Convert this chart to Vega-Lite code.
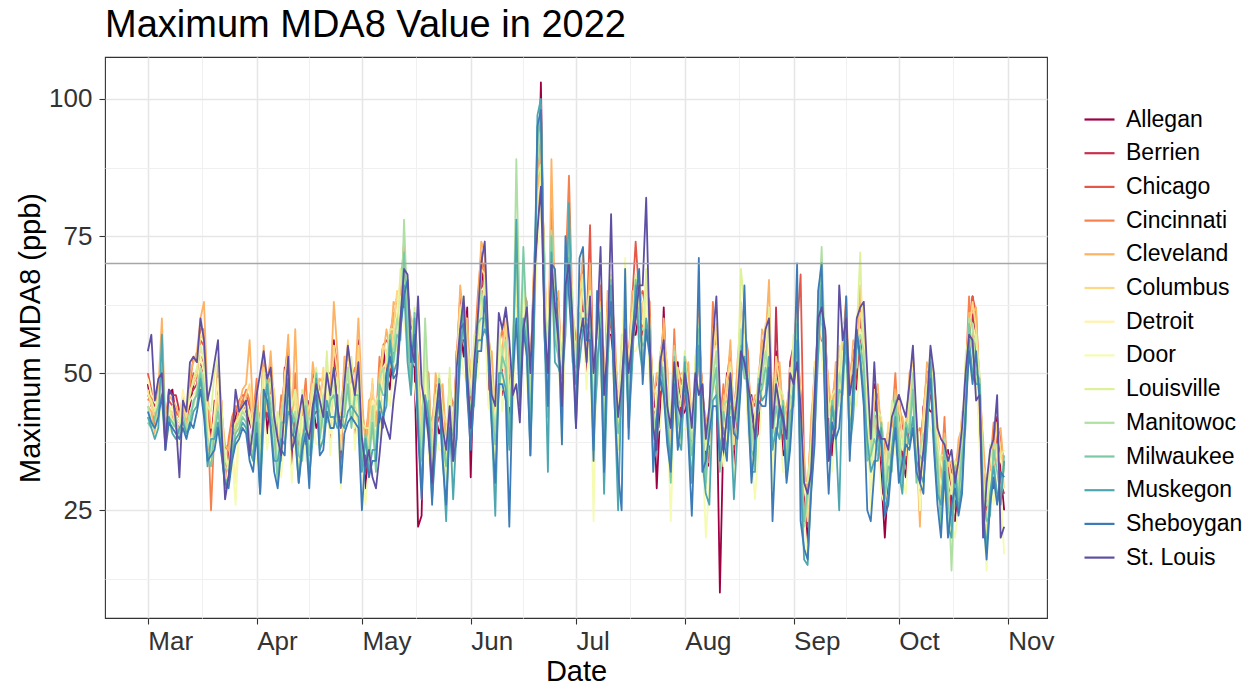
{
"$schema": "https://vega.github.io/schema/vega-lite/v6.json",
"width": 942, "height": 561,
"autosize": {"type": "none"},
"padding": {"left": 105, "top": 57, "right": 210, "bottom": 69},
"background": "white",
"title": {"text": "Maximum MDA8 Value in 2022", "anchor": "start", "frame": "group", "orient": "top", "offset": 12, "fontSize": 38, "font": "Liberation Sans", "fontWeight": "normal", "color": "#000000"},
"config": {
 "view": {"stroke": "#333333", "strokeWidth": 1.1},
 "axis": {"domain": false, "labelFont": "Liberation Sans", "labelFontSize": 26, "labelColor": "#333333", "titleFont": "Liberation Sans", "titleFontSize": 29, "titleFontWeight": "normal", "titleColor": "#000000", "tickSize": 6, "tickWidth": 1.1, "labelFlush": false, "labelOverlap": false, "labelBound": false}
},
"datasets": {"main": [
{"d":"2022-03-01","a":48,"b":46,"c":50,"d2":45,"e":44,"f":47,"g":49,"h":42,"i":46,"j":44,"k":41,"l":42,"m":43,"n":54},
{"d":"2022-03-02","a":44,"b":45,"c":47,"d2":46,"e":43,"f":44,"g":46,"h":40,"i":45,"j":41,"k":40,"l":40,"m":41,"n":57},
{"d":"2022-03-03","a":43,"b":44,"c":40,"d2":41,"e":39,"f":42,"g":45,"h":38,"i":43,"j":40,"k":42,"l":38,"m":40,"n":45},
{"d":"2022-03-04","a":45,"b":46,"c":44,"d2":48,"e":47,"f":44,"g":43,"h":41,"i":46,"j":43,"k":44,"l":40,"m":42,"n":49},
{"d":"2022-03-05","a":47,"b":48,"c":50,"d2":52,"e":60,"f":55,"g":48,"h":44,"i":49,"j":46,"k":45,"l":57,"m":46,"n":50},
{"d":"2022-03-06","a":38,"b":40,"c":42,"d2":40,"e":41,"f":40,"g":42,"h":37,"i":39,"j":38,"k":39,"l":38,"m":36,"n":36},
{"d":"2022-03-07","a":46,"b":47,"c":45,"d2":44,"e":46,"f":42,"g":43,"h":40,"i":44,"j":41,"k":42,"l":42,"m":41,"n":47},
{"d":"2022-03-08","a":47,"b":46,"c":44,"d2":42,"e":45,"f":43,"g":44,"h":39,"i":41,"j":40,"k":41,"l":39,"m":40,"n":46},
{"d":"2022-03-09","a":42,"b":46,"c":43,"d2":41,"e":44,"f":40,"g":42,"h":38,"i":40,"j":42,"k":40,"l":38,"m":39,"n":41},
{"d":"2022-03-10","a":41,"b":43,"c":42,"d2":40,"e":42,"f":39,"g":41,"h":37,"i":40,"j":38,"k":39,"l":40,"m":38,"n":31},
{"d":"2022-03-11","a":45,"b":44,"c":43,"d2":42,"e":46,"f":44,"g":47,"h":41,"i":44,"j":43,"k":42,"l":41,"m":40,"n":45},
{"d":"2022-03-12","a":42,"b":41,"c":40,"d2":43,"e":41,"f":42,"g":43,"h":39,"i":44,"j":40,"k":39,"l":39,"m":38,"n":43},
{"d":"2022-03-13","a":44,"b":46,"c":47,"d2":48,"e":50,"f":47,"g":45,"h":42,"i":46,"j":43,"k":41,"l":40,"m":41,"n":52},
{"d":"2022-03-14","a":48,"b":47,"c":50,"d2":53,"e":52,"f":48,"g":46,"h":43,"i":49,"j":44,"k":45,"l":43,"m":40,"n":53},
{"d":"2022-03-15","a":50,"b":48,"c":49,"d2":52,"e":54,"f":50,"g":47,"h":44,"i":51,"j":47,"k":46,"l":44,"m":43,"n":52},
{"d":"2022-03-16","a":52,"b":53,"c":56,"d2":58,"e":60,"f":57,"g":53,"h":48,"i":55,"j":51,"k":50,"l":49,"m":47,"n":60},
{"d":"2022-03-17","a":50,"b":52,"c":55,"d2":58,"e":63,"f":56,"g":50,"h":45,"i":52,"j":48,"k":46,"l":44,"m":42,"n":56},
{"d":"2022-03-18","a":44,"b":42,"c":45,"d2":43,"e":46,"f":41,"g":40,"h":36,"i":44,"j":38,"k":35,"l":33,"m":34,"n":45},
{"d":"2022-03-19","a":38,"b":37,"c":35,"d2":25,"e":40,"f":37,"g":36,"h":34,"i":43,"j":35,"k":33,"l":38,"m":35,"n":48},
{"d":"2022-03-20","a":43,"b":45,"c":42,"d2":40,"e":41,"f":42,"g":43,"h":38,"i":50,"j":40,"k":39,"l":38,"m":36,"n":52},
{"d":"2022-03-21","a":46,"b":45,"c":48,"d2":47,"e":52,"f":46,"g":49,"h":41,"i":53,"j":44,"k":43,"l":41,"m":40,"n":56},
{"d":"2022-03-22","a":41,"b":42,"c":40,"d2":45,"e":43,"f":40,"g":38,"h":37,"i":44,"j":39,"k":38,"l":36,"m":35,"n":40},
{"d":"2022-03-23","a":33,"b":34,"c":36,"d2":30,"e":37,"f":35,"g":36,"h":31,"i":34,"j":33,"k":30,"l":29,"m":30,"n":27},
{"d":"2022-03-24","a":34,"b":35,"c":37,"d2":38,"e":36,"f":33,"g":32,"h":30,"i":33,"j":32,"k":31,"l":31,"m":29,"n":31},
{"d":"2022-03-25","a":40,"b":38,"c":41,"d2":42,"e":40,"f":38,"g":37,"h":35,"i":39,"j":37,"k":36,"l":35,"m":34,"n":38},
{"d":"2022-03-26","a":42,"b":41,"c":43,"d2":44,"e":40,"f":39,"g":30,"h":26,"i":41,"j":40,"k":39,"l":38,"m":37,"n":47},
{"d":"2022-03-27","a":44,"b":43,"c":45,"d2":43,"e":44,"f":42,"g":41,"h":39,"i":42,"j":41,"k":40,"l":39,"m":38,"n":43},
{"d":"2022-03-28","a":44,"b":45,"c":46,"d2":45,"e":47,"f":43,"g":42,"h":40,"i":44,"j":43,"k":42,"l":41,"m":40,"n":44},
{"d":"2022-03-29","a":43,"b":44,"c":46,"d2":47,"e":48,"f":46,"g":44,"h":41,"i":45,"j":42,"k":41,"l":40,"m":39,"n":45},
{"d":"2022-03-30","a":41,"b":42,"c":44,"d2":45,"e":56,"f":48,"g":43,"h":38,"i":42,"j":39,"k":37,"l":36,"m":34,"n":35},
{"d":"2022-03-31","a":39,"b":40,"c":41,"d2":42,"e":43,"f":40,"g":38,"h":36,"i":40,"j":37,"k":35,"l":34,"m":32,"n":40},
{"d":"2022-04-01","a":40,"b":37,"c":43,"d2":49,"e":46,"f":42,"g":38,"h":34,"i":42,"j":45,"k":44,"l":41,"m":39,"n":46},
{"d":"2022-04-02","a":42,"b":39,"c":41,"d2":34,"e":39,"f":41,"g":37,"h":31,"i":33,"j":37,"k":32,"l":28,"m":28,"n":50},
{"d":"2022-04-03","a":47,"b":45,"c":53,"d2":49,"e":55,"f":51,"g":49,"h":44,"i":50,"j":42,"k":43,"l":41,"m":47,"n":54},
{"d":"2022-04-04","a":39,"b":42,"c":47,"d2":49,"e":46,"f":43,"g":46,"h":36,"i":50,"j":47,"k":49,"l":48,"m":45,"n":49},
{"d":"2022-04-05","a":47,"b":48,"c":50,"d2":52,"e":54,"f":49,"g":46,"h":42,"i":49,"j":45,"k":43,"l":41,"m":40,"n":51},
{"d":"2022-04-06","a":37,"b":41,"c":46,"d2":42,"e":44,"f":47,"g":43,"h":38,"i":36,"j":42,"k":39,"l":34,"m":32,"n":42},
{"d":"2022-04-07","a":40,"b":41,"c":35,"d2":39,"e":37,"f":34,"g":42,"h":38,"i":43,"j":31,"k":30,"l":34,"m":29,"n":38},
{"d":"2022-04-08","a":37,"b":34,"c":40,"d2":46,"e":43,"f":39,"g":35,"h":31,"i":39,"j":42,"k":41,"l":38,"m":36,"n":35},
{"d":"2022-04-09","a":51,"b":48,"c":50,"d2":43,"e":48,"f":50,"g":46,"h":40,"i":42,"j":46,"k":41,"l":37,"m":35,"n":44},
{"d":"2022-04-10","a":49,"b":47,"c":55,"d2":51,"e":57,"f":53,"g":51,"h":46,"i":52,"j":44,"k":45,"l":43,"m":49,"n":53},
{"d":"2022-04-11","a":33,"b":36,"c":41,"d2":43,"e":40,"f":37,"g":40,"h":30,"i":44,"j":41,"k":43,"l":42,"m":39,"n":36},
{"d":"2022-04-12","a":45,"b":46,"c":48,"d2":50,"e":58,"f":47,"g":44,"h":40,"i":47,"j":43,"k":41,"l":39,"m":38,"n":38},
{"d":"2022-04-13","a":33,"b":37,"c":42,"d2":38,"e":40,"f":43,"g":39,"h":34,"i":32,"j":38,"k":35,"l":30,"m":30,"n":42},
{"d":"2022-04-14","a":44,"b":45,"c":39,"d2":43,"e":41,"f":38,"g":46,"h":42,"i":47,"j":35,"k":34,"l":38,"m":36,"n":46},
{"d":"2022-04-15","a":40,"b":37,"c":43,"d2":49,"e":46,"f":42,"g":38,"h":34,"i":42,"j":45,"k":44,"l":41,"m":39,"n":40},
{"d":"2022-04-16","a":45,"b":42,"c":44,"d2":37,"e":42,"f":44,"g":40,"h":34,"i":36,"j":40,"k":35,"l":31,"m":29,"n":38},
{"d":"2022-04-17","a":44,"b":42,"c":50,"d2":46,"e":52,"f":48,"g":46,"h":41,"i":47,"j":39,"k":40,"l":38,"m":44,"n":44},
{"d":"2022-04-18","a":40,"b":43,"c":48,"d2":50,"e":47,"f":44,"g":47,"h":37,"i":51,"j":48,"k":50,"l":49,"m":46,"n":48},
{"d":"2022-04-19","a":42,"b":43,"c":45,"d2":47,"e":49,"f":44,"g":41,"h":37,"i":44,"j":40,"k":38,"l":36,"m":35,"n":45},
{"d":"2022-04-20","a":41,"b":45,"c":50,"d2":46,"e":48,"f":51,"g":47,"h":42,"i":40,"j":46,"k":43,"l":38,"m":36,"n":42},
{"d":"2022-04-21","a":51,"b":52,"c":46,"d2":50,"e":48,"f":45,"g":53,"h":49,"i":54,"j":42,"k":41,"l":45,"m":43,"n":50},
{"d":"2022-04-22","a":41,"b":38,"c":44,"d2":50,"e":47,"f":43,"g":39,"h":35,"i":43,"j":46,"k":45,"l":42,"m":40,"n":46},
{"d":"2022-04-23","a":56,"b":53,"c":55,"d2":48,"e":63,"f":55,"g":51,"h":45,"i":47,"j":51,"k":46,"l":42,"m":40,"n":51},
{"d":"2022-04-24","a":46,"b":44,"c":52,"d2":48,"e":54,"f":50,"g":48,"h":43,"i":49,"j":41,"k":42,"l":40,"m":46,"n":44},
{"d":"2022-04-25","a":32,"b":35,"c":40,"d2":42,"e":39,"f":36,"g":39,"h":29,"i":43,"j":40,"k":42,"l":41,"m":30,"n":40},
{"d":"2022-04-26","a":46,"b":47,"c":49,"d2":51,"e":53,"f":48,"g":45,"h":41,"i":48,"j":44,"k":42,"l":40,"m":39,"n":48},
{"d":"2022-04-27","a":46,"b":50,"c":55,"d2":51,"e":53,"f":56,"g":52,"h":47,"i":45,"j":51,"k":48,"l":43,"m":41,"n":55},
{"d":"2022-04-28","a":50,"b":51,"c":45,"d2":49,"e":47,"f":44,"g":52,"h":48,"i":53,"j":41,"k":40,"l":44,"m":42,"n":50},
{"d":"2022-04-29","a":42,"b":39,"c":45,"d2":51,"e":48,"f":44,"g":40,"h":36,"i":44,"j":47,"k":46,"l":43,"m":41,"n":46},
{"d":"2022-04-30","a":56,"b":53,"c":55,"d2":48,"e":60,"f":55,"g":51,"h":45,"i":47,"j":51,"k":46,"l":42,"m":40,"n":52},
{"d":"2022-05-01","a":38,"b":36,"c":44,"d2":40,"e":46,"f":42,"g":40,"h":35,"i":41,"j":33,"k":34,"l":32,"m":25,"n":38},
{"d":"2022-05-02","a":29,"b":32,"c":37,"d2":39,"e":36,"f":33,"g":36,"h":26,"i":40,"j":37,"k":39,"l":38,"m":35,"n":33},
{"d":"2022-05-03","a":38,"b":39,"c":41,"d2":43,"e":45,"f":40,"g":37,"h":33,"i":40,"j":36,"k":34,"l":32,"m":31,"n":36},
{"d":"2022-05-04","a":39,"b":43,"c":48,"d2":44,"e":46,"f":49,"g":45,"h":40,"i":38,"j":44,"k":41,"l":36,"m":34,"n":31},
{"d":"2022-05-05","a":42,"b":43,"c":37,"d2":41,"e":39,"f":36,"g":44,"h":40,"i":45,"j":33,"k":32,"l":36,"m":34,"n":29},
{"d":"2022-05-06","a":44,"b":41,"c":47,"d2":53,"e":50,"f":46,"g":42,"h":38,"i":46,"j":49,"k":48,"l":45,"m":43,"n":35},
{"d":"2022-05-07","a":55,"b":53,"c":55,"d2":48,"e":53,"f":55,"g":51,"h":45,"i":47,"j":51,"k":46,"l":42,"m":40,"n":42},
{"d":"2022-05-08","a":50,"b":48,"c":56,"d2":52,"e":58,"f":54,"g":52,"h":47,"i":53,"j":45,"k":46,"l":44,"m":50,"n":40},
{"d":"2022-05-09","a":47,"b":50,"c":55,"d2":57,"e":54,"f":51,"g":54,"h":44,"i":58,"j":55,"k":57,"l":56,"m":53,"n":38},
{"d":"2022-05-10","a":56,"b":57,"c":59,"d2":61,"e":63,"f":58,"g":55,"h":51,"i":58,"j":54,"k":52,"l":50,"m":49,"n":45},
{"d":"2022-05-11","a":55,"b":59,"c":64,"d2":60,"e":62,"f":65,"g":61,"h":56,"i":54,"j":60,"k":57,"l":52,"m":50,"n":50},
{"d":"2022-05-12","a":66,"b":67,"c":61,"d2":65,"e":63,"f":60,"g":68,"h":64,"i":69,"j":57,"k":56,"l":60,"m":58,"n":60},
{"d":"2022-05-13","a":65,"b":62,"c":68,"d2":74,"e":71,"f":67,"g":63,"h":59,"i":67,"j":78,"k":72,"l":66,"m":64,"n":69},
{"d":"2022-05-14","a":66,"b":63,"c":65,"d2":58,"e":63,"f":65,"g":61,"h":55,"i":57,"j":61,"k":56,"l":52,"m":67,"n":68},
{"d":"2022-05-15","a":52,"b":50,"c":58,"d2":54,"e":60,"f":56,"g":54,"h":49,"i":55,"j":47,"k":48,"l":46,"m":52,"n":55},
{"d":"2022-05-16","a":51,"b":54,"c":59,"d2":61,"e":58,"f":55,"g":58,"h":48,"i":62,"j":59,"k":61,"l":60,"m":57,"n":52},
{"d":"2022-05-17","a":22,"b":47,"c":49,"d2":51,"e":53,"f":48,"g":45,"h":41,"i":48,"j":44,"k":42,"l":40,"m":39,"n":64},
{"d":"2022-05-18","a":24,"b":36,"c":41,"d2":37,"e":39,"f":42,"g":38,"h":33,"i":31,"j":37,"k":34,"l":29,"m":27,"n":48},
{"d":"2022-05-19","a":52,"b":53,"c":47,"d2":51,"e":49,"f":46,"g":54,"h":50,"i":55,"j":60,"k":42,"l":46,"m":44,"n":44},
{"d":"2022-05-20","a":41,"b":38,"c":44,"d2":50,"e":47,"f":43,"g":39,"h":35,"i":43,"j":46,"k":45,"l":42,"m":40,"n":38},
{"d":"2022-05-21","a":41,"b":38,"c":40,"d2":33,"e":38,"f":40,"g":36,"h":30,"i":32,"j":36,"k":31,"l":27,"m":26,"n":30},
{"d":"2022-05-22","a":42,"b":40,"c":48,"d2":44,"e":50,"f":46,"g":44,"h":39,"i":45,"j":37,"k":38,"l":36,"m":42,"n":42},
{"d":"2022-05-23","a":39,"b":42,"c":47,"d2":49,"e":46,"f":43,"g":46,"h":36,"i":50,"j":47,"k":49,"l":48,"m":45,"n":48},
{"d":"2022-05-24","a":41,"b":42,"c":44,"d2":46,"e":48,"f":43,"g":40,"h":36,"i":43,"j":39,"k":37,"l":35,"m":34,"n":40},
{"d":"2022-05-25","a":31,"b":35,"c":40,"d2":36,"e":38,"f":41,"g":37,"h":32,"i":30,"j":36,"k":33,"l":23,"m":26,"n":36},
{"d":"2022-05-26","a":49,"b":49,"c":43,"d2":47,"e":45,"f":42,"g":50,"h":46,"i":51,"j":39,"k":38,"l":42,"m":40,"n":44},
{"d":"2022-05-27","a":35,"b":32,"c":38,"d2":44,"e":41,"f":37,"g":33,"h":29,"i":37,"j":40,"k":39,"l":27,"m":34,"n":34},
{"d":"2022-05-28","a":54,"b":51,"c":53,"d2":46,"e":51,"f":53,"g":49,"h":43,"i":45,"j":49,"k":44,"l":40,"m":38,"n":51},
{"d":"2022-05-29","a":58,"b":56,"c":64,"d2":60,"e":66,"f":62,"g":60,"h":55,"i":61,"j":53,"k":54,"l":52,"m":58,"n":58},
{"d":"2022-05-30","a":53,"b":56,"c":61,"d2":63,"e":60,"f":57,"g":60,"h":50,"i":64,"j":61,"k":63,"l":62,"m":59,"n":64},
{"d":"2022-05-31","a":62,"b":54,"c":56,"d2":58,"e":60,"f":55,"g":52,"h":48,"i":55,"j":51,"k":49,"l":47,"m":46,"n":50},
{"d":"2022-06-01","a":31,"b":45,"c":50,"d2":46,"e":48,"f":51,"g":47,"h":42,"i":40,"j":46,"k":43,"l":38,"m":36,"n":40},
{"d":"2022-06-02","a":54,"b":55,"c":49,"d2":53,"e":51,"f":48,"g":56,"h":52,"i":57,"j":45,"k":44,"l":48,"m":46,"n":52},
{"d":"2022-06-03","a":55,"b":52,"c":58,"d2":64,"e":61,"f":57,"g":53,"h":49,"i":57,"j":60,"k":59,"l":56,"m":54,"n":60},
{"d":"2022-06-04","a":70,"b":67,"c":69,"d2":72,"e":74,"f":69,"g":65,"h":59,"i":61,"j":65,"k":60,"l":56,"m":54,"n":70},
{"d":"2022-06-05","a":64,"b":62,"c":70,"d2":66,"e":72,"f":68,"g":66,"h":61,"i":67,"j":59,"k":60,"l":58,"m":64,"n":74},
{"d":"2022-06-06","a":47,"b":50,"c":55,"d2":57,"e":54,"f":51,"g":54,"h":44,"i":58,"j":55,"k":57,"l":56,"m":53,"n":56},
{"d":"2022-06-07","a":47,"b":48,"c":50,"d2":52,"e":54,"f":49,"g":46,"h":42,"i":49,"j":45,"k":43,"l":41,"m":40,"n":46},
{"d":"2022-06-08","a":35,"b":39,"c":44,"d2":40,"e":42,"f":45,"g":41,"h":36,"i":34,"j":40,"k":37,"l":24,"m":30,"n":44},
{"d":"2022-06-09","a":56,"b":57,"c":51,"d2":55,"e":53,"f":50,"g":58,"h":54,"i":59,"j":47,"k":46,"l":50,"m":48,"n":61},
{"d":"2022-06-10","a":49,"b":46,"c":52,"d2":58,"e":55,"f":51,"g":47,"h":43,"i":51,"j":54,"k":53,"l":50,"m":48,"n":58},
{"d":"2022-06-11","a":61,"b":58,"c":60,"d2":53,"e":58,"f":60,"g":56,"h":50,"i":52,"j":56,"k":51,"l":47,"m":45,"n":62},
{"d":"2022-06-12","a":42,"b":40,"c":48,"d2":44,"e":50,"f":46,"g":44,"h":39,"i":45,"j":37,"k":38,"l":36,"m":22,"n":56},
{"d":"2022-06-13","a":43,"b":46,"c":51,"d2":53,"e":50,"f":47,"g":50,"h":40,"i":54,"j":51,"k":53,"l":52,"m":49,"n":46},
{"d":"2022-06-14","a":67,"b":68,"c":70,"d2":72,"e":74,"f":69,"g":66,"h":62,"i":69,"j":89,"k":75,"l":78,"m":60,"n":48},
{"d":"2022-06-15","a":49,"b":53,"c":58,"d2":54,"e":56,"f":59,"g":55,"h":50,"i":48,"j":60,"k":51,"l":46,"m":44,"n":41},
{"d":"2022-06-16","a":66,"b":67,"c":61,"d2":65,"e":63,"f":60,"g":68,"h":64,"i":69,"j":57,"k":73,"l":60,"m":58,"n":58},
{"d":"2022-06-17","a":54,"b":51,"c":57,"d2":63,"e":60,"f":56,"g":52,"h":48,"i":56,"j":59,"k":58,"l":55,"m":53,"n":62},
{"d":"2022-06-18","a":51,"b":48,"c":50,"d2":43,"e":48,"f":50,"g":46,"h":40,"i":42,"j":46,"k":41,"l":35,"m":35,"n":50},
{"d":"2022-06-19","a":62,"b":60,"c":68,"d2":64,"e":70,"f":66,"g":64,"h":59,"i":65,"j":57,"k":58,"l":56,"m":62,"n":66},
{"d":"2022-06-20","a":75,"b":78,"c":83,"d2":85,"e":82,"f":79,"g":82,"h":72,"i":86,"j":88,"k":92,"l":97,"m":95,"n":76},
{"d":"2022-06-21","a":103,"b":95,"c":89,"d2":91,"e":93,"f":88,"g":85,"h":81,"i":88,"j":96,"k":99,"l":100,"m":98,"n":84},
{"d":"2022-06-22","a":62,"b":66,"c":71,"d2":67,"e":69,"f":72,"g":68,"h":63,"i":61,"j":67,"k":64,"l":59,"m":57,"n":60},
{"d":"2022-06-23","a":52,"b":53,"c":47,"d2":51,"e":49,"f":46,"g":54,"h":50,"i":55,"j":43,"k":42,"l":32,"m":44,"n":50},
{"d":"2022-06-24","a":71,"b":68,"c":74,"d2":80,"e":89,"f":73,"g":69,"h":65,"i":73,"j":76,"k":75,"l":72,"m":70,"n":70},
{"d":"2022-06-25","a":66,"b":63,"c":65,"d2":58,"e":63,"f":65,"g":61,"h":55,"i":57,"j":61,"k":56,"l":52,"m":69,"n":62},
{"d":"2022-06-26","a":57,"b":55,"c":63,"d2":59,"e":65,"f":61,"g":59,"h":54,"i":60,"j":52,"k":53,"l":51,"m":57,"n":56},
{"d":"2022-06-27","a":40,"b":43,"c":48,"d2":50,"e":47,"f":44,"g":47,"h":37,"i":51,"j":48,"k":50,"l":49,"m":37,"n":44},
{"d":"2022-06-28","a":63,"b":64,"c":66,"d2":68,"e":70,"f":65,"g":62,"h":58,"i":65,"j":61,"k":59,"l":57,"m":75,"n":66},
{"d":"2022-06-29","a":69,"b":73,"c":78,"d2":86,"e":76,"f":79,"g":75,"h":70,"i":68,"j":74,"k":71,"l":81,"m":64,"n":70},
{"d":"2022-06-30","a":62,"b":63,"c":57,"d2":61,"e":59,"f":56,"g":64,"h":60,"i":65,"j":53,"k":52,"l":56,"m":54,"n":60},
{"d":"2022-07-01","a":47,"b":44,"c":50,"d2":56,"e":53,"f":49,"g":45,"h":41,"i":49,"j":52,"k":51,"l":48,"m":40,"n":40},
{"d":"2022-07-02","a":66,"b":63,"c":65,"d2":58,"e":63,"f":65,"g":61,"h":55,"i":57,"j":61,"k":56,"l":52,"m":71,"n":56},
{"d":"2022-07-03","a":64,"b":62,"c":70,"d2":66,"e":72,"f":68,"g":66,"h":61,"i":67,"j":59,"k":60,"l":58,"m":73,"n":60},
{"d":"2022-07-04","a":50,"b":53,"c":58,"d2":60,"e":57,"f":54,"g":57,"h":47,"i":61,"j":58,"k":60,"l":59,"m":56,"n":52},
{"d":"2022-07-05","a":63,"b":64,"c":77,"d2":68,"e":70,"f":65,"g":62,"h":58,"i":65,"j":61,"k":59,"l":57,"m":56,"n":64},
{"d":"2022-07-06","a":39,"b":43,"c":48,"d2":44,"e":46,"f":49,"g":45,"h":23,"i":38,"j":44,"k":41,"l":36,"m":34,"n":50},
{"d":"2022-07-07","a":58,"b":59,"c":53,"d2":57,"e":55,"f":52,"g":60,"h":56,"i":61,"j":49,"k":48,"l":52,"m":65,"n":58},
{"d":"2022-07-08","a":57,"b":54,"c":60,"d2":66,"e":63,"f":59,"g":55,"h":51,"i":59,"j":62,"k":61,"l":58,"m":56,"n":73},
{"d":"2022-07-09","a":48,"b":45,"c":47,"d2":40,"e":45,"f":47,"g":43,"h":37,"i":39,"j":43,"k":38,"l":28,"m":32,"n":46},
{"d":"2022-07-10","a":57,"b":55,"c":63,"d2":59,"e":65,"f":61,"g":59,"h":54,"i":60,"j":52,"k":53,"l":51,"m":57,"n":55},
{"d":"2022-07-11","a":57,"b":60,"c":65,"d2":67,"e":64,"f":61,"g":64,"h":54,"i":68,"j":65,"k":67,"l":66,"m":63,"n":79},
{"d":"2022-07-12","a":51,"b":52,"c":54,"d2":56,"e":58,"f":53,"g":50,"h":46,"i":53,"j":49,"k":47,"l":45,"m":44,"n":52},
{"d":"2022-07-13","a":37,"b":41,"c":46,"d2":42,"e":44,"f":47,"g":43,"h":38,"i":36,"j":42,"k":39,"l":25,"m":32,"n":42},
{"d":"2022-07-14","a":54,"b":55,"c":49,"d2":53,"e":51,"f":48,"g":56,"h":52,"i":57,"j":45,"k":44,"l":48,"m":25,"n":48},
{"d":"2022-07-15","a":55,"b":52,"c":58,"d2":64,"e":61,"f":57,"g":53,"h":71,"i":57,"j":60,"k":59,"l":56,"m":69,"n":58},
{"d":"2022-07-16","a":54,"b":51,"c":53,"d2":46,"e":51,"f":53,"g":49,"h":43,"i":45,"j":49,"k":44,"l":40,"m":38,"n":50},
{"d":"2022-07-17","a":57,"b":55,"c":63,"d2":59,"e":65,"f":61,"g":59,"h":54,"i":60,"j":52,"k":53,"l":51,"m":57,"n":56},
{"d":"2022-07-18","a":57,"b":60,"c":74,"d2":67,"e":64,"f":61,"g":64,"h":54,"i":68,"j":65,"k":67,"l":66,"m":63,"n":60},
{"d":"2022-07-19","a":61,"b":62,"c":64,"d2":66,"e":68,"f":63,"g":60,"h":56,"i":63,"j":59,"k":57,"l":55,"m":69,"n":66},
{"d":"2022-07-20","a":53,"b":57,"c":65,"d2":58,"e":60,"f":63,"g":59,"h":54,"i":52,"j":58,"k":55,"l":50,"m":48,"n":66},
{"d":"2022-07-21","a":66,"b":67,"c":61,"d2":65,"e":63,"f":60,"g":68,"h":64,"i":69,"j":57,"k":56,"l":60,"m":58,"n":82},
{"d":"2022-07-22","a":54,"b":51,"c":57,"d2":63,"e":60,"f":56,"g":52,"h":48,"i":56,"j":59,"k":58,"l":55,"m":53,"n":56},
{"d":"2022-07-23","a":48,"b":45,"c":47,"d2":40,"e":45,"f":47,"g":43,"h":37,"i":39,"j":43,"k":38,"l":34,"m":32,"n":40},
{"d":"2022-07-24","a":29,"b":40,"c":48,"d2":44,"e":50,"f":46,"g":44,"h":39,"i":45,"j":37,"k":38,"l":36,"m":42,"n":36},
{"d":"2022-07-25","a":43,"b":46,"c":51,"d2":53,"e":50,"f":47,"g":50,"h":40,"i":54,"j":51,"k":53,"l":52,"m":49,"n":52},
{"d":"2022-07-26","a":62,"b":54,"c":56,"d2":58,"e":60,"f":55,"g":52,"h":48,"i":55,"j":51,"k":49,"l":47,"m":46,"n":56},
{"d":"2022-07-27","a":42,"b":46,"c":51,"d2":47,"e":49,"f":52,"g":48,"h":43,"i":41,"j":47,"k":44,"l":39,"m":37,"n":44},
{"d":"2022-07-28","a":40,"b":41,"c":35,"d2":39,"e":37,"f":34,"g":42,"h":23,"i":43,"j":31,"k":30,"l":34,"m":32,"n":40},
{"d":"2022-07-29","a":49,"b":46,"c":52,"d2":58,"e":55,"f":51,"g":47,"h":43,"i":51,"j":54,"k":53,"l":50,"m":48,"n":52},
{"d":"2022-07-30","a":52,"b":49,"c":51,"d2":44,"e":49,"f":51,"g":47,"h":41,"i":43,"j":47,"k":42,"l":38,"m":36,"n":44},
{"d":"2022-07-31","a":42,"b":40,"c":48,"d2":44,"e":50,"f":46,"g":44,"h":39,"i":45,"j":37,"k":38,"l":36,"m":42,"n":42},
{"d":"2022-08-01","a":43,"b":46,"c":51,"d2":53,"e":50,"f":47,"g":50,"h":40,"i":54,"j":51,"k":53,"l":52,"m":49,"n":50},
{"d":"2022-08-02","a":45,"b":46,"c":48,"d2":50,"e":52,"f":47,"g":44,"h":40,"i":47,"j":43,"k":41,"l":39,"m":38,"n":46},
{"d":"2022-08-03","a":33,"b":37,"c":42,"d2":38,"e":40,"f":43,"g":39,"h":34,"i":32,"j":38,"k":35,"l":30,"m":24,"n":40},
{"d":"2022-08-04","a":50,"b":51,"c":45,"d2":49,"e":47,"f":44,"g":52,"h":48,"i":53,"j":41,"k":40,"l":44,"m":42,"n":50},
{"d":"2022-08-05","a":54,"b":51,"c":57,"d2":63,"e":60,"f":56,"g":52,"h":48,"i":56,"j":59,"k":58,"l":55,"m":71,"n":46},
{"d":"2022-08-06","a":48,"b":45,"c":47,"d2":40,"e":45,"f":47,"g":43,"h":37,"i":39,"j":43,"k":38,"l":34,"m":32,"n":48},
{"d":"2022-08-07","a":34,"b":32,"c":40,"d2":36,"e":42,"f":38,"g":36,"h":20,"i":37,"j":29,"k":30,"l":28,"m":34,"n":38},
{"d":"2022-08-08","a":33,"b":36,"c":41,"d2":43,"e":40,"f":37,"g":40,"h":30,"i":44,"j":41,"k":43,"l":26,"m":39,"n":44},
{"d":"2022-08-09","a":51,"b":52,"c":54,"d2":63,"e":58,"f":53,"g":50,"h":46,"i":53,"j":49,"k":47,"l":45,"m":44,"n":56},
{"d":"2022-08-10","a":49,"b":53,"c":58,"d2":54,"e":56,"f":59,"g":55,"h":50,"i":48,"j":54,"k":51,"l":46,"m":44,"n":64},
{"d":"2022-08-11","a":10,"b":43,"c":37,"d2":41,"e":39,"f":36,"g":44,"h":40,"i":45,"j":33,"k":32,"l":36,"m":34,"n":46},
{"d":"2022-08-12","a":39,"b":36,"c":42,"d2":48,"e":45,"f":41,"g":37,"h":33,"i":41,"j":44,"k":43,"l":40,"m":38,"n":36},
{"d":"2022-08-13","a":50,"b":47,"c":49,"d2":42,"e":47,"f":49,"g":45,"h":39,"i":41,"j":45,"k":40,"l":36,"m":34,"n":42},
{"d":"2022-08-14","a":48,"b":46,"c":54,"d2":50,"e":56,"f":52,"g":50,"h":45,"i":51,"j":43,"k":44,"l":42,"m":48,"n":50},
{"d":"2022-08-15","a":33,"b":36,"c":41,"d2":43,"e":40,"f":37,"g":40,"h":30,"i":44,"j":41,"k":43,"l":27,"m":39,"n":40},
{"d":"2022-08-16","a":45,"b":46,"c":48,"d2":50,"e":52,"f":47,"g":44,"h":40,"i":47,"j":43,"k":41,"l":39,"m":38,"n":46},
{"d":"2022-08-17","a":53,"b":57,"c":62,"d2":58,"e":60,"f":63,"g":59,"h":54,"i":69,"j":58,"k":55,"l":50,"m":48,"n":54},
{"d":"2022-08-18","a":59,"b":60,"c":54,"d2":58,"e":56,"f":53,"g":61,"h":57,"i":62,"j":50,"k":49,"l":53,"m":66,"n":52},
{"d":"2022-08-19","a":45,"b":42,"c":48,"d2":54,"e":51,"f":47,"g":43,"h":39,"i":47,"j":50,"k":49,"l":46,"m":44,"n":48},
{"d":"2022-08-20","a":46,"b":43,"c":45,"d2":38,"e":43,"f":45,"g":41,"h":35,"i":37,"j":41,"k":36,"l":32,"m":30,"n":44},
{"d":"2022-08-21","a":38,"b":36,"c":44,"d2":40,"e":46,"f":42,"g":40,"h":27,"i":41,"j":33,"k":34,"l":32,"m":38,"n":38},
{"d":"2022-08-22","a":39,"b":42,"c":47,"d2":49,"e":46,"f":43,"g":46,"h":36,"i":50,"j":47,"k":49,"l":48,"m":45,"n":46},
{"d":"2022-08-23","a":51,"b":52,"c":54,"d2":56,"e":58,"f":53,"g":50,"h":46,"i":53,"j":49,"k":47,"l":45,"m":44,"n":52},
{"d":"2022-08-24","a":49,"b":53,"c":58,"d2":54,"e":56,"f":59,"g":55,"h":50,"i":48,"j":54,"k":51,"l":46,"m":44,"n":58},
{"d":"2022-08-25","a":59,"b":60,"c":54,"d2":58,"e":67,"f":53,"g":61,"h":57,"i":62,"j":50,"k":49,"l":53,"m":51,"n":60},
{"d":"2022-08-26","a":35,"b":32,"c":38,"d2":44,"e":41,"f":37,"g":33,"h":29,"i":37,"j":40,"k":39,"l":36,"m":23,"n":40},
{"d":"2022-08-27","a":54,"b":62,"c":53,"d2":46,"e":51,"f":53,"g":49,"h":43,"i":45,"j":49,"k":44,"l":40,"m":38,"n":48},
{"d":"2022-08-28","a":44,"b":42,"c":50,"d2":46,"e":52,"f":48,"g":46,"h":41,"i":47,"j":39,"k":40,"l":38,"m":44,"n":44},
{"d":"2022-08-29","a":35,"b":38,"c":43,"d2":45,"e":42,"f":39,"g":42,"h":32,"i":46,"j":43,"k":45,"l":44,"m":41,"n":42},
{"d":"2022-08-30","a":37,"b":38,"c":40,"d2":42,"e":44,"f":39,"g":36,"h":32,"i":39,"j":35,"k":33,"l":31,"m":30,"n":38},
{"d":"2022-08-31","a":41,"b":52,"c":50,"d2":46,"e":48,"f":51,"g":47,"h":42,"i":40,"j":46,"k":43,"l":38,"m":36,"n":50},
{"d":"2022-09-01","a":54,"b":55,"c":49,"d2":53,"e":51,"f":48,"g":56,"h":52,"i":57,"j":45,"k":44,"l":48,"m":46,"n":48},
{"d":"2022-09-02","a":55,"b":52,"c":58,"d2":64,"e":61,"f":57,"g":53,"h":49,"i":57,"j":60,"k":59,"l":56,"m":70,"n":52},
{"d":"2022-09-03","a":46,"b":43,"c":68,"d2":38,"e":43,"f":45,"g":41,"h":35,"i":37,"j":41,"k":36,"l":32,"m":23,"n":44},
{"d":"2022-09-04","a":27,"b":25,"c":33,"d2":29,"e":35,"f":31,"g":29,"h":24,"i":30,"j":22,"k":23,"l":16,"m":18,"n":30},
{"d":"2022-09-05","a":19,"b":22,"c":27,"d2":29,"e":26,"f":23,"g":26,"h":16,"i":30,"j":27,"k":29,"l":15,"m":16,"n":28},
{"d":"2022-09-06","a":35,"b":36,"c":38,"d2":40,"e":42,"f":37,"g":34,"h":30,"i":37,"j":33,"k":31,"l":29,"m":28,"n":32},
{"d":"2022-09-07","a":42,"b":46,"c":51,"d2":47,"e":49,"f":52,"g":48,"h":43,"i":41,"j":47,"k":44,"l":39,"m":37,"n":46},
{"d":"2022-09-08","a":59,"b":60,"c":54,"d2":58,"e":56,"f":53,"g":61,"h":57,"i":62,"j":60,"k":62,"l":53,"m":65,"n":60},
{"d":"2022-09-09","a":59,"b":56,"c":62,"d2":68,"e":65,"f":61,"g":57,"h":53,"i":61,"j":73,"k":68,"l":66,"m":70,"n":62},
{"d":"2022-09-10","a":58,"b":55,"c":57,"d2":50,"e":55,"f":57,"g":53,"h":47,"i":49,"j":53,"k":48,"l":44,"m":42,"n":58},
{"d":"2022-09-11","a":40,"b":38,"c":46,"d2":42,"e":48,"f":44,"g":42,"h":37,"i":43,"j":35,"k":36,"l":34,"m":28,"n":34},
{"d":"2022-09-12","a":35,"b":38,"c":43,"d2":45,"e":42,"f":39,"g":42,"h":32,"i":46,"j":43,"k":45,"l":44,"m":41,"n":38},
{"d":"2022-09-13","a":45,"b":46,"c":48,"d2":50,"e":52,"f":47,"g":44,"h":40,"i":47,"j":43,"k":41,"l":39,"m":38,"n":40},
{"d":"2022-09-14","a":45,"b":49,"c":54,"d2":50,"e":52,"f":55,"g":51,"h":46,"i":44,"j":50,"k":47,"l":25,"m":40,"n":66},
{"d":"2022-09-15","a":56,"b":57,"c":51,"d2":55,"e":53,"f":50,"g":58,"h":54,"i":59,"j":47,"k":46,"l":50,"m":48,"n":56},
{"d":"2022-09-16","a":55,"b":52,"c":58,"d2":64,"e":61,"f":57,"g":53,"h":49,"i":57,"j":60,"k":59,"l":56,"m":64,"n":60},
{"d":"2022-09-17","a":50,"b":47,"c":49,"d2":42,"e":47,"f":49,"g":45,"h":39,"i":41,"j":45,"k":40,"l":36,"m":34,"n":46},
{"d":"2022-09-18","a":48,"b":46,"c":54,"d2":50,"e":56,"f":52,"g":50,"h":45,"i":51,"j":43,"k":44,"l":42,"m":48,"n":50},
{"d":"2022-09-19","a":47,"b":50,"c":55,"d2":57,"e":54,"f":51,"g":54,"h":44,"i":58,"j":55,"k":57,"l":56,"m":58,"n":60},
{"d":"2022-09-20","a":59,"b":60,"c":62,"d2":64,"e":66,"f":61,"g":58,"h":54,"i":72,"j":57,"k":55,"l":53,"m":52,"n":62},
{"d":"2022-09-21","a":49,"b":53,"c":58,"d2":54,"e":56,"f":59,"g":55,"h":50,"i":48,"j":54,"k":51,"l":46,"m":44,"n":63},
{"d":"2022-09-22","a":44,"b":45,"c":39,"d2":43,"e":41,"f":38,"g":46,"h":42,"i":47,"j":35,"k":34,"l":38,"m":25,"n":50},
{"d":"2022-09-23","a":31,"b":28,"c":34,"d2":40,"e":37,"f":33,"g":29,"h":25,"i":33,"j":36,"k":35,"l":32,"m":23,"n":38},
{"d":"2022-09-24","a":48,"b":45,"c":47,"d2":40,"e":45,"f":47,"g":43,"h":37,"i":39,"j":43,"k":38,"l":34,"m":32,"n":52},
{"d":"2022-09-25","a":40,"b":38,"c":46,"d2":42,"e":48,"f":44,"g":42,"h":37,"i":43,"j":35,"k":36,"l":34,"m":40,"n":40},
{"d":"2022-09-26","a":31,"b":34,"c":39,"d2":41,"e":38,"f":35,"g":38,"h":28,"i":42,"j":39,"k":41,"l":40,"m":37,"n":38},
{"d":"2022-09-27","a":20,"b":32,"c":34,"d2":36,"e":38,"f":33,"g":30,"h":26,"i":33,"j":29,"k":27,"l":25,"m":24,"n":38},
{"d":"2022-09-28","a":31,"b":35,"c":40,"d2":36,"e":38,"f":41,"g":37,"h":32,"i":30,"j":36,"k":33,"l":28,"m":26,"n":36},
{"d":"2022-09-29","a":42,"b":43,"c":37,"d2":41,"e":39,"f":36,"g":44,"h":40,"i":45,"j":33,"k":32,"l":36,"m":34,"n":42},
{"d":"2022-09-30","a":41,"b":38,"c":44,"d2":50,"e":47,"f":43,"g":39,"h":35,"i":43,"j":46,"k":45,"l":42,"m":40,"n":44},
{"d":"2022-10-01","a":46,"b":43,"c":45,"d2":38,"e":43,"f":45,"g":41,"h":35,"i":37,"j":41,"k":36,"l":32,"m":30,"n":46},
{"d":"2022-10-02","a":34,"b":32,"c":40,"d2":36,"e":42,"f":38,"g":36,"h":31,"i":37,"j":29,"k":30,"l":28,"m":34,"n":44},
{"d":"2022-10-03","a":31,"b":34,"c":39,"d2":41,"e":38,"f":35,"g":38,"h":28,"i":42,"j":39,"k":41,"l":40,"m":37,"n":42},
{"d":"2022-10-04","a":43,"b":44,"c":46,"d2":48,"e":50,"f":45,"g":42,"h":38,"i":45,"j":41,"k":39,"l":37,"m":36,"n":48},
{"d":"2022-10-05","a":45,"b":49,"c":54,"d2":50,"e":52,"f":55,"g":51,"h":46,"i":44,"j":50,"k":47,"l":42,"m":40,"n":55},
{"d":"2022-10-06","a":40,"b":41,"c":35,"d2":39,"e":37,"f":34,"g":42,"h":38,"i":43,"j":31,"k":30,"l":34,"m":32,"n":42},
{"d":"2022-10-07","a":31,"b":28,"c":34,"d2":40,"e":22,"f":33,"g":29,"h":25,"i":33,"j":36,"k":35,"l":32,"m":30,"n":30},
{"d":"2022-10-08","a":44,"b":41,"c":43,"d2":36,"e":41,"f":43,"g":39,"h":33,"i":35,"j":39,"k":34,"l":30,"m":28,"n":36},
{"d":"2022-10-09","a":44,"b":42,"c":50,"d2":46,"e":52,"f":48,"g":46,"h":41,"i":47,"j":39,"k":40,"l":38,"m":44,"n":44},
{"d":"2022-10-10","a":43,"b":46,"c":51,"d2":53,"e":50,"f":47,"g":50,"h":40,"i":54,"j":51,"k":53,"l":52,"m":49,"n":55},
{"d":"2022-10-11","a":43,"b":44,"c":46,"d2":48,"e":50,"f":45,"g":42,"h":38,"i":45,"j":41,"k":39,"l":37,"m":36,"n":50},
{"d":"2022-10-12","a":31,"b":35,"c":40,"d2":36,"e":38,"f":41,"g":37,"h":32,"i":30,"j":36,"k":33,"l":28,"m":26,"n":40},
{"d":"2022-10-13","a":32,"b":33,"c":27,"d2":31,"e":29,"f":26,"g":34,"h":30,"i":35,"j":23,"k":22,"l":26,"m":20,"n":38},
{"d":"2022-10-14","a":33,"b":30,"c":36,"d2":42,"e":39,"f":35,"g":31,"h":27,"i":35,"j":38,"k":37,"l":34,"m":32,"n":37},
{"d":"2022-10-15","a":36,"b":33,"c":35,"d2":28,"e":33,"f":35,"g":31,"h":25,"i":27,"j":31,"k":26,"l":22,"m":20,"n":34},
{"d":"2022-10-16","a":26,"b":24,"c":32,"d2":28,"e":34,"f":30,"g":28,"h":23,"i":29,"j":14,"k":22,"l":20,"m":26,"n":36},
{"d":"2022-10-17","a":23,"b":26,"c":31,"d2":33,"e":30,"f":27,"g":30,"h":20,"i":34,"j":31,"k":33,"l":32,"m":29,"n":30},
{"d":"2022-10-18","a":31,"b":32,"c":34,"d2":36,"e":38,"f":33,"g":30,"h":26,"i":33,"j":29,"k":27,"l":25,"m":24,"n":34},
{"d":"2022-10-19","a":33,"b":37,"c":42,"d2":38,"e":40,"f":43,"g":39,"h":34,"i":32,"j":38,"k":35,"l":30,"m":28,"n":40},
{"d":"2022-10-20","a":50,"b":51,"c":45,"d2":49,"e":47,"f":44,"g":52,"h":48,"i":53,"j":41,"k":40,"l":44,"m":42,"n":50},
{"d":"2022-10-21","a":55,"b":52,"c":58,"d2":64,"e":61,"f":57,"g":53,"h":49,"i":57,"j":60,"k":59,"l":56,"m":54,"n":57},
{"d":"2022-10-22","a":64,"b":61,"c":64,"d2":56,"e":61,"f":63,"g":59,"h":53,"i":55,"j":59,"k":54,"l":50,"m":48,"n":56},
{"d":"2022-10-23","a":54,"b":52,"c":61,"d2":56,"e":62,"f":58,"g":56,"h":51,"i":57,"j":49,"k":50,"l":48,"m":54,"n":45},
{"d":"2022-10-24","a":39,"b":42,"c":47,"d2":49,"e":46,"f":43,"g":46,"h":36,"i":50,"j":47,"k":49,"l":48,"m":45,"n":46},
{"d":"2022-10-25","a":31,"b":32,"c":34,"d2":36,"e":38,"f":33,"g":30,"h":26,"i":33,"j":29,"k":27,"l":25,"m":24,"n":20},
{"d":"2022-10-26","a":21,"b":25,"c":30,"d2":26,"e":28,"f":31,"g":27,"h":14,"i":20,"j":26,"k":23,"l":18,"m":16,"n":30},
{"d":"2022-10-27","a":34,"b":35,"c":29,"d2":33,"e":31,"f":28,"g":36,"h":32,"i":37,"j":25,"k":24,"l":28,"m":26,"n":36},
{"d":"2022-10-28","a":32,"b":29,"c":35,"d2":41,"e":38,"f":34,"g":30,"h":26,"i":34,"j":37,"k":36,"l":33,"m":31,"n":38},
{"d":"2022-10-29","a":42,"b":39,"c":41,"d2":34,"e":39,"f":41,"g":37,"h":31,"i":33,"j":37,"k":32,"l":28,"m":26,"n":46},
{"d":"2022-10-30","a":32,"b":30,"c":38,"d2":34,"e":40,"f":36,"g":34,"h":29,"i":35,"j":27,"k":28,"l":26,"m":32,"n":20},
{"d":"2022-10-31","a":25,"b":28,"c":33,"d2":35,"e":32,"f":29,"g":32,"h":17,"i":36,"j":33,"k":35,"l":34,"m":31,"n":22}
],
"names": [
{"k":"a","city":"Allegan"},{"k":"b","city":"Berrien"},{"k":"c","city":"Chicago"},{"k":"d2","city":"Cincinnati"},{"k":"e","city":"Cleveland"},{"k":"f","city":"Columbus"},{"k":"g","city":"Detroit"},{"k":"h","city":"Door"},{"k":"i","city":"Louisville"},{"k":"j","city":"Manitowoc"},{"k":"k","city":"Milwaukee"},{"k":"l","city":"Muskegon"},{"k":"m","city":"Sheboygan"},{"k":"n","city":"St. Louis"}
]},
"layer": [
{
 "data": {"name": "main"},
 "transform": [
  {"fold": ["a","b","c","d2","e","f","g","h","i","j","k","l","m","n"], "as": ["k","v"]},
  {"lookup": "k", "from": {"data": {"name": "names"}, "key": "k", "fields": ["city"]}}
 ],
 "mark": {"type": "line", "strokeWidth": 1.8, "strokeJoin": "round", "clip": true},
 "encoding": {
  "x": {"field": "d", "type": "temporal", "title": "Date",
   "scale": {"type": "utc", "domain": [{"year": 2022, "month": 2, "date": 16, "hours": 19, "utc": true}, {"year": 2022, "month": 11, "date": 12, "hours": 5, "utc": true}]},
   "axis": {
    "values": [{"year":2022,"month":3,"date":1,"utc":true},{"year":2022,"month":3,"date":16,"hours":12,"utc":true},{"year":2022,"month":4,"date":1,"utc":true},{"year":2022,"month":4,"date":16,"utc":true},{"year":2022,"month":5,"date":1,"utc":true},{"year":2022,"month":5,"date":16,"hours":12,"utc":true},{"year":2022,"month":6,"date":1,"utc":true},{"year":2022,"month":6,"date":16,"utc":true},{"year":2022,"month":7,"date":1,"utc":true},{"year":2022,"month":7,"date":16,"hours":12,"utc":true},{"year":2022,"month":8,"date":1,"utc":true},{"year":2022,"month":8,"date":16,"hours":12,"utc":true},{"year":2022,"month":9,"date":1,"utc":true},{"year":2022,"month":9,"date":16,"utc":true},{"year":2022,"month":10,"date":1,"utc":true},{"year":2022,"month":10,"date":16,"hours":12,"utc":true},{"year":2022,"month":11,"date":1,"utc":true}],
    "labelExpr": "utcdate(datum.value) == 1 ? utcFormat(datum.value, '%b') : ''",
    "labelAlign": "left",
    "labelPadding": 4,
    "titlePadding": 3,
    "gridColor": {"condition": {"test": "utcdate(datum.value) == 1", "value": "#E6E6E6"}, "value": "#F0F0F0"},
    "gridWidth": {"condition": {"test": "utcdate(datum.value) == 1", "value": 1.6}, "value": 1},
    "tickColor": {"condition": {"test": "utcdate(datum.value) == 1", "value": "#333333"}, "value": "rgba(0,0,0,0)"}
   }
  },
  "y": {"field": "v", "type": "quantitative", "title": "Maximum MDA8 (ppb)",
   "scale": {"domain": [5.35, 107.65], "nice": false, "zero": false},
   "axis": {
    "values": [12.5, 25, 37.5, 50, 62.5, 75, 87.5, 100],
    "labelExpr": "datum.value % 25 == 0 ? datum.label : ''",
    "labelPadding": 7,
    "titlePadding": 3,
    "gridColor": {"condition": {"test": "datum.value % 25 == 0", "value": "#E6E6E6"}, "value": "#F0F0F0"},
    "gridWidth": {"condition": {"test": "datum.value % 25 == 0", "value": 1.6}, "value": 1},
    "tickColor": {"condition": {"test": "datum.value % 25 == 0", "value": "#333333"}, "value": "rgba(0,0,0,0)"}
   }
  },
  "color": {"field": "city", "type": "nominal",
   "scale": {"domain": ["Allegan","Berrien","Chicago","Cincinnati","Cleveland","Columbus","Detroit","Door","Louisville","Manitowoc","Milwaukee","Muskegon","Sheboygan","St. Louis"],
    "range": ["#9E0142","#C8304C","#E65748","#F7814C","#FDB264","#FED885","#FFF3AB","#F5FBB0","#DDF19A","#B0DFA3","#7BCAA5","#4EA7B0","#3C7BB7","#5E4FA2"]},
   "legend": {"orient": "none", "legendX": 978, "legendY": 46, "title": null, "symbolType": "stroke", "symbolSize": 900, "symbolStrokeWidth": 2.2, "labelFontSize": 23, "labelFont": "Liberation Sans", "labelColor": "#000000", "rowPadding": 4.7, "labelOffset": 10, "padding": 0}
  }
 }
},
{
 "data": {"values": [{"ref": 70}]},
 "mark": {"type": "rule", "color": "#A6A6A6", "strokeWidth": 1.6},
 "encoding": {"y": {"field": "ref", "type": "quantitative", "title": "Maximum MDA8 (ppb)"}}
}
]
}
